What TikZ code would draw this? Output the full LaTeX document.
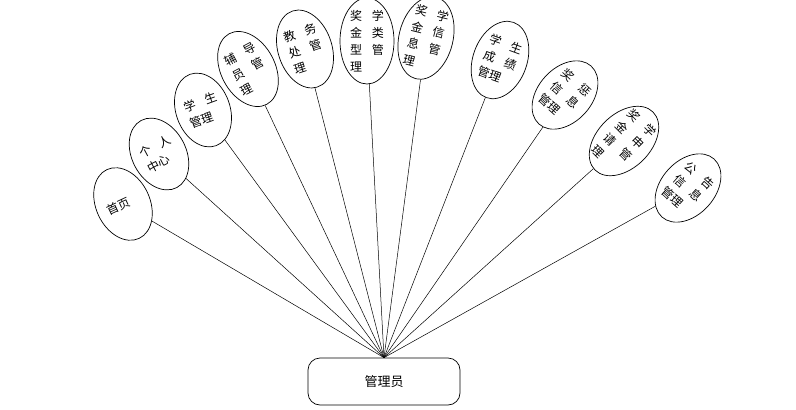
\documentclass[tikz,border=0pt]{standalone}
\usepackage{fontspec}
\newfontfamily\cjk{Noto Sans CJK SC}
\usetikzlibrary{shapes.geometric}
\newcommand{\pr}[2]{\makebox[34pt]{#1\hfill#2}}
\tikzset{
  ell/.style={draw, ellipse, line width=0.7pt, inner sep=0pt, minimum width=54pt},
  etxt/.style={inner sep=0pt, text width=34pt, align=left, font=\cjk\fontsize{12}{17}\selectfont},
  adminbox/.style={draw, rounded corners=12pt, line width=0.7pt, minimum width=152pt, minimum height=47pt, font=\cjk\fontsize{13}{15}\selectfont},
  link/.style={line width=0.5pt}
}

\begin{document}
\begin{tikzpicture}[x=1pt, y=-1pt]
    \useasboundingbox (0,0) rectangle (796,410);

    % Admin box
    \node[adminbox] (adm) at (384,381.5) {管理员};

    % Function ellipses, one link each to the admin
    \foreach \i/\pos/\ang/\h/\txt in {
        1/{(123,204)}/25/76/{首页},
        2/{(159,154)}/28/76/{\pr{个}{人}\\中心},
        3/{(203,110)}/20/76/{\pr{学}{生}\\管理},
        4/{(248,69)}/28/80/{\pr{辅}{导}\\\pr{员}{管}\\理},
        5/{(305,49)}/18/80/{\pr{教}{务}\\\pr{处}{管}\\理},
        6/{(367,41)}/0/86/{\pr{奖}{学}\\\pr{金}{类}\\\pr{型}{管}\\理},
        7/{(426,38)}/-14/84/{\pr{奖}{学}\\\pr{金}{信}\\\pr{息}{管}\\理},
        8/{(500,60)}/-20/80/{\pr{学}{生}\\\pr{成}{绩}\\管理},
        9/{(565,95)}/-42/78/{\pr{奖}{惩}\\\pr{信}{息}\\管理},
        10/{(624,141)}/-45/82/{\pr{奖}{学}\\\pr{金}{申}\\\pr{请}{管}\\理},
        11/{(688,188)}/-42/78/{\pr{公}{告}\\\pr{信}{息}\\管理}
    }{
        \node[ell, rotate=\ang, minimum height=\h pt] (e\i) at \pos {};
        \node[etxt, rotate=\ang] (t\i) at (e\i) {\txt};
        \draw[link] (e\i) -- (adm.north);
    }
\end{tikzpicture}
\end{document}
